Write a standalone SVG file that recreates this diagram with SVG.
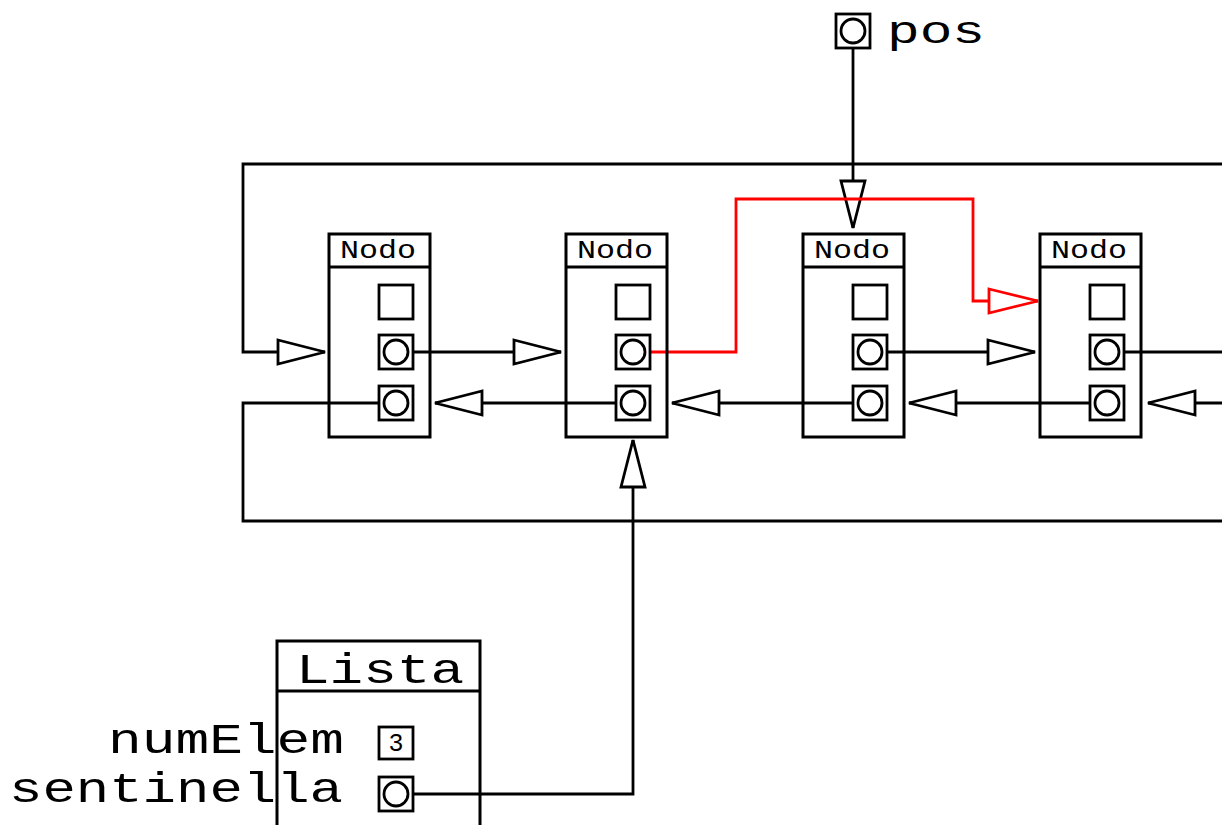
<svg xmlns="http://www.w3.org/2000/svg" width="1222" height="825" viewBox="0 0 1222 825">
<style>
.box{fill:none;stroke:#000;stroke-width:3}
.sq{fill:#fff;stroke:#000;stroke-width:2.8}
.ln{fill:none;stroke:#000;stroke-width:2.8}
.red{fill:none;stroke:#f00;stroke-width:2.8}
.t{font-family:"Liberation Mono","DejaVu Sans Mono",monospace;fill:#000}
</style>
<defs>
<marker id="ah" markerUnits="userSpaceOnUse" markerWidth="50" markerHeight="30" refX="47" refY="12" orient="auto" overflow="visible">
<path d="M0,0 L47,12 L0,24 Z" fill="#fff" stroke="#000" stroke-width="2.8"/>
</marker>
<marker id="ahr" markerUnits="userSpaceOnUse" markerWidth="50" markerHeight="30" refX="49" refY="12" orient="auto" overflow="visible">
<path d="M0,0 L49,12 L0,24 Z" fill="#fff" stroke="#f00" stroke-width="2.8"/>
</marker>
</defs>
<g id="connectors">
<path class="ln" d="M1222,164 H243 V352 H325" marker-end="url(#ah)"/>
<path class="ln" d="M396,352 H561" marker-end="url(#ah)"/>
<path class="ln" d="M870,352 H1035" marker-end="url(#ah)"/>
<path class="ln" d="M1107,352 H1222"/>
<path class="ln" d="M396,403 H243 V521 H1222"/>
<path class="ln" d="M633,403 H435" marker-end="url(#ah)"/>
<path class="ln" d="M870,403 H672" marker-end="url(#ah)"/>
<path class="ln" d="M1107,403 H909" marker-end="url(#ah)"/>
<path class="ln" d="M1222,403 H1148" marker-end="url(#ah)"/>
<path class="ln" d="M853,31 V228" marker-end="url(#ah)"/>
<path class="ln" d="M395,794 H633 V440" marker-end="url(#ah)"/>
<path class="red" d="M633,352 H736 V199 H973 V301 H1038" marker-end="url(#ahr)"/>
</g>
<g id="node1">
<rect class="box" x="329" y="234" width="101" height="203"/>
<line class="ln" x1="329" y1="267" x2="430" y2="267"/>
<text class="t" x="340" y="258" font-size="25" textLength="76" lengthAdjust="spacingAndGlyphs">Nodo</text>
<rect class="sq" x="379" y="285" width="34" height="34"/>
<rect class="sq" x="379" y="335" width="34" height="34"/>
<circle class="sq" cx="396" cy="352" r="12"/>
<rect class="sq" x="379" y="386" width="34" height="34"/>
<circle class="sq" cx="396" cy="403" r="12"/>
</g>
<g id="node2">
<rect class="box" x="566" y="234" width="101" height="203"/>
<line class="ln" x1="566" y1="267" x2="667" y2="267"/>
<text class="t" x="577" y="258" font-size="25" textLength="76" lengthAdjust="spacingAndGlyphs">Nodo</text>
<rect class="sq" x="616" y="285" width="34" height="34"/>
<rect class="sq" x="616" y="335" width="34" height="34"/>
<circle class="sq" cx="633" cy="352" r="12"/>
<rect class="sq" x="616" y="386" width="34" height="34"/>
<circle class="sq" cx="633" cy="403" r="12"/>
</g>
<g id="node3">
<rect class="box" x="803" y="234" width="101" height="203"/>
<line class="ln" x1="803" y1="267" x2="904" y2="267"/>
<text class="t" x="814" y="258" font-size="25" textLength="76" lengthAdjust="spacingAndGlyphs">Nodo</text>
<rect class="sq" x="853" y="285" width="34" height="34"/>
<rect class="sq" x="853" y="335" width="34" height="34"/>
<circle class="sq" cx="870" cy="352" r="12"/>
<rect class="sq" x="853" y="386" width="34" height="34"/>
<circle class="sq" cx="870" cy="403" r="12"/>
</g>
<g id="node4">
<rect class="box" x="1040" y="234" width="101" height="203"/>
<line class="ln" x1="1040" y1="267" x2="1141" y2="267"/>
<text class="t" x="1051" y="258" font-size="25" textLength="76" lengthAdjust="spacingAndGlyphs">Nodo</text>
<rect class="sq" x="1090" y="285" width="34" height="34"/>
<rect class="sq" x="1090" y="335" width="34" height="34"/>
<circle class="sq" cx="1107" cy="352" r="12"/>
<rect class="sq" x="1090" y="386" width="34" height="34"/>
<circle class="sq" cx="1107" cy="403" r="12"/>
</g>
<g id="pos">
<rect class="sq" x="836" y="14" width="34" height="34"/>
<circle class="sq" cx="853" cy="31" r="12"/>
<text class="t" x="887" y="43" font-size="38" textLength="98" lengthAdjust="spacingAndGlyphs">pos</text>
</g>
<g id="lista">
<rect class="box" x="277" y="641" width="203" height="200"/>
<line class="ln" x1="277" y1="691" x2="480" y2="691"/>
<text class="t" x="296" y="683" font-size="42" textLength="168" lengthAdjust="spacingAndGlyphs">Lista</text>
<text class="t" x="108" y="753" font-size="42" textLength="236" lengthAdjust="spacingAndGlyphs">numElem</text>
<text class="t" x="9" y="802" font-size="42" textLength="334" lengthAdjust="spacingAndGlyphs">sentinella</text>
<rect class="sq" x="379" y="727" width="34" height="32"/>
<text class="t" x="396" y="751" font-size="25" text-anchor="middle">3</text>
<rect class="sq" x="379" y="777" width="34" height="34"/>
<circle class="sq" cx="396" cy="794" r="12"/>
</g>
</svg>
